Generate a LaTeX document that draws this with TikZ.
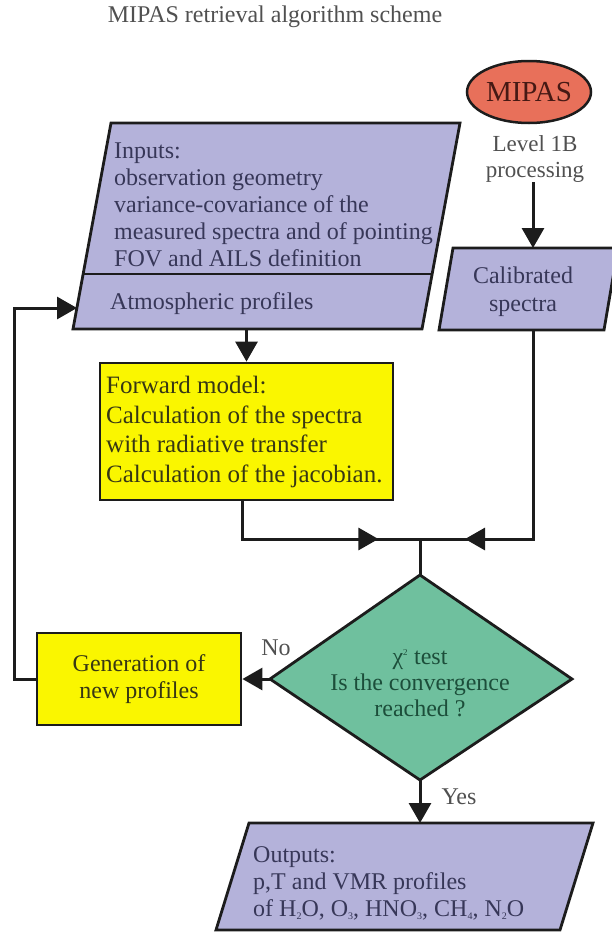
\documentclass[tikz,border=0pt]{standalone}
\usepackage{fontspec}
\setmainfont{Liberation Serif}
\usetikzlibrary{arrows.meta,shapes.geometric,decorations.markings}
\definecolor{lav}{RGB}{180,178,218}
\definecolor{yel}{RGB}{250,246,0}
\definecolor{grn}{RGB}{111,192,158}
\definecolor{redfill}{RGB}{232,112,90}
\definecolor{linec}{RGB}{28,28,28}
\definecolor{navytxt}{RGB}{55,55,88}
\definecolor{olivetxt}{RGB}{55,55,20}
\definecolor{grntxt}{RGB}{28,78,58}
\definecolor{graytxt}{RGB}{80,80,80}
\newcommand{\mysub}[1]{\raisebox{-3pt}{\fontsize{10}{10}\selectfont #1}}
\tikzset{
  conn/.style={color=linec, line width=3pt},
  arr/.style={conn, -{Triangle[length=20pt,width=22pt]}},
  boxline/.style={draw=linec, line width=2.8pt, line join=miter},
  txt/.style={font=\fontsize{24}{27}\selectfont, inner sep=0pt},
  midarrow/.style={postaction={decorate, decoration={markings,
     mark=at position #1 with {\arrow{Triangle[length=20pt,width=22pt]}}}}},
}
\begin{document}
\begin{tikzpicture}[x=1pt,y=-1pt]
\useasboundingbox (0,0) rectangle (612,937);

% title
\node[font=\fontsize{24}{26}\selectfont, text=graytxt, inner sep=0pt] (title) at (275,17) {MIPAS retrieval algorithm scheme};

% MIPAS ellipse
\node[ellipse, boxline, line width=2.5pt, fill=redfill, minimum width=124pt, minimum height=62pt, inner sep=0pt,
      font=\fontsize{29}{30}\selectfont, text={rgb,255:red,70;green,25;blue,20}] (mipas) at (529,92) {MIPAS};
\node[txt, font=\fontsize{23}{25}\selectfont, text=graytxt, align=center] (lvl) at (535,159) {Level 1B\\processing};

% Inputs parallelogram
\coordinate (inTL) at (111,123);
\coordinate (inTR) at (460,123);
\coordinate (inBR) at (422,329);
\coordinate (inBL) at (73,329);
\coordinate (divL) at (83,274);
\coordinate (divR) at (432,274);
\coordinate (inB) at (246.5,329);
\coordinate (inL) at (77,308);
\path[boxline, fill=lav] (inTL) -- (inTR) -- (inBR) -- (inBL) -- cycle;
\draw[boxline] (divL) -- (divR);
\node[txt, text=navytxt, anchor=north west, align=left] (intext) at (114,143)
  {Inputs:\\observation geometry\\variance-covariance of the\\measured spectra and of pointing\\FOV and AILS definition};
\node[txt, text=navytxt, anchor=west] (atm) at (110,304) {Atmospheric profiles};

% Calibrated spectra parallelogram
\coordinate (calTL) at (453,248);
\coordinate (calTR) at (618,248);
\coordinate (calBR) at (604,330);
\coordinate (calBL) at (439,330);
\coordinate (calT) at (533,248);
\coordinate (calB) at (533,330);
\path[boxline, fill=lav] (calTL) -- (calTR) -- (calBR) -- (calBL) -- cycle;
\node[txt, font=\fontsize{24}{28}\selectfont, text=navytxt, align=center] (cal) at (523,292) {Calibrated\\spectra};

% Forward model
\node[boxline, fill=yel, minimum width=293pt, minimum height=137pt, inner sep=0pt] (fwd) at (246.5,431.5) {};
\node[txt, font=\fontsize{25}{29.5}\selectfont, text=olivetxt, align=left, anchor=west] (fwdtext) at (106,432)
  {Forward model:\\Calculation of the spectra\\with radiative transfer\\Calculation of the jacobian.};

% Diamond
\coordinate (dT) at (420,575);
\coordinate (dR) at (572,679);
\coordinate (dB) at (420,780);
\coordinate (dL) at (270,679);
\path[boxline, fill=grn] (dT) -- (dR) -- (dB) -- (dL) -- cycle;
\node[txt, font=\fontsize{24}{26}\selectfont, text=grntxt, align=center] (dtext) at (420,683)
  {χ\textsuperscript{\fontsize{9}{9}\selectfont 2} test\\Is the convergence\\reached ?};

% Generation of new profiles
\node[boxline, fill=yel, minimum width=204pt, minimum height=92pt, inner sep=0pt, align=center,
      font=\fontsize{24}{27}\selectfont, text=olivetxt] (gen) at (139,679) {Generation of\\new profiles};

% Outputs parallelogram
\coordinate (outTL) at (249,823);
\coordinate (outTR) at (593,823);
\coordinate (outBR) at (560,930);
\coordinate (outBL) at (216,930);
\coordinate (outT) at (420,823);
\path[boxline, fill=lav] (outTL) -- (outTR) -- (outBR) -- (outBL) -- cycle;
\node[txt, text=navytxt, anchor=north west, align=left] (outtext) at (253,846)
  {Outputs:\\p,T and VMR profiles\\of H\mysub{2}O, O\mysub{3}, HNO\mysub{3}, CH\mysub{4}, N\mysub{2}O};

% connectors
\coordinate (j) at (420,539);
\draw[arr] (lvl.south -| calT) -- (calT);
\draw[arr] (inB) -- (fwd.north);
\draw[conn, midarrow=174pt] (fwd.south -| 242,0) |- (j);
\draw[conn, midarrow=277pt] (calB) |- (j);
\draw[conn] (j) -- (dT);
\draw[arr] (dL) -- (gen.east);
\draw[arr] (gen.west) -- ++(-21,0) |- (inL);
\draw[arr] (dB) -- (outT);

% labels
\node[txt, text=graytxt] (no) at (276,648) {No};
\node[txt, text=graytxt] (yes) at (459,797) {Yes};
\end{tikzpicture}
\end{document}
